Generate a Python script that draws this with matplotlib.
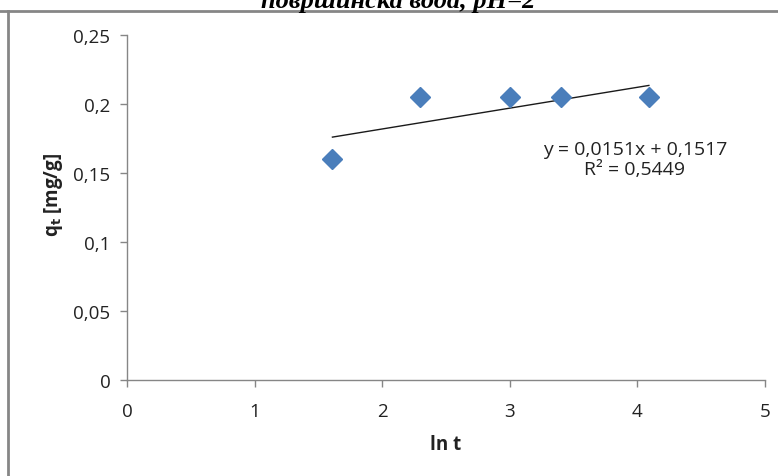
import matplotlib.pyplot as plt
from matplotlib.lines import Line2D

plt.rcParams['font.family'] = ['Open Sans', 'DejaVu Sans']

# подаци (ln t, q_t)
ln_t = [1.61, 2.30, 3.00, 3.40, 4.09]
q_t = [0.160, 0.205, 0.205, 0.205, 0.205]

# линеарни тренд из Excel-а
slope = 0.0151
intercept = 0.1517
eq_text = 'y = 0,0151x + 0,1517'
r2_text = 'R² = 0,5449'

x_ticks = [0, 1, 2, 3, 4, 5]
y_ticks = [0, 0.05, 0.1, 0.15, 0.2, 0.25]
y_tick_labels = ['0', '0,05', '0,1', '0,15', '0,2', '0,25']

axis_gray = '#868686'
blue = '#4a7ebb'
text_col = '#222222'

fig = plt.figure(figsize=(7.78, 4.77), dpi=100)
ax = fig.add_axes([127 / 778, 1 - 381 / 477, (765 - 127) / 778, (381 - 36) / 477])

ax.plot(ln_t, q_t, linestyle='none', marker='D', markersize=10,
        color=blue, markeredgecolor=blue, zorder=3)

x_fit = [ln_t[0], ln_t[-1]]
y_fit = [slope * x + intercept for x in x_fit]
ax.plot(x_fit, y_fit, color='#1a1a1a', linewidth=1.0, zorder=2)

ax.set_xlim(0, 5)
ax.set_ylim(0, 0.25)
ax.set_xticks(x_ticks)
ax.set_xticklabels([str(v) for v in x_ticks])
ax.set_yticks(y_ticks)
ax.set_yticklabels(y_tick_labels)

for side in ['top', 'right']:
    ax.spines[side].set_visible(False)
for side in ['left', 'bottom']:
    ax.spines[side].set_color(axis_gray)
    ax.spines[side].set_linewidth(1.0)
ax.tick_params(direction='out', length=5, width=1, color=axis_gray,
               labelsize=13.5, labelcolor=text_col, pad=7)
ax.tick_params(axis='x', pad=11)

ax.set_xlabel('ln t', fontsize=13.5, fontweight='bold', labelpad=10, color=text_col)
ax.set_ylabel(r'q$_\mathbf{t}$ [mg/g]', fontsize=13.5, fontweight='bold',
              color=text_col)
ax.yaxis.set_label_coords(-0.097, 0.54)

ax.text(3.98, 0.1675, eq_text, fontsize=14, ha='center', va='center', color=text_col)
ax.text(3.98, 0.153, r2_text, fontsize=14, ha='center', va='center', color=text_col)

# рамка графика и одсечени наслов
fig.add_artist(Line2D([0, 1], [1 - 12 / 477, 1 - 12 / 477], color=axis_gray, linewidth=2))
fig.add_artist(Line2D([8 / 778, 8 / 778], [0, 1 - 12 / 477], color=axis_gray, linewidth=2))
fig.text(398 / 778, 1 - 8 / 477, 'површинска вода, pH=2', fontsize=19,
         family='Liberation Serif', fontweight='bold', style='italic',
         ha='center', va='baseline')

fig.savefig('out.png', dpi=100, facecolor='white')
